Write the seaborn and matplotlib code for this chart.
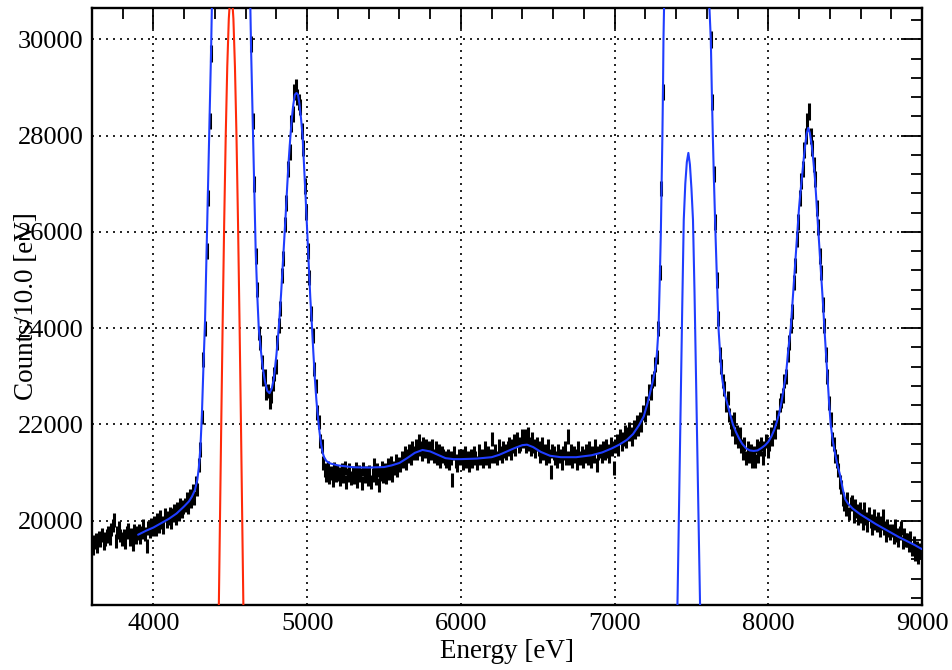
import numpy as np
import pandas as pd
import matplotlib
matplotlib.use("Agg")
import matplotlib.pyplot as plt
import seaborn as sns
from matplotlib.ticker import MultipleLocator

# ---------------- data ----------------
bin_start = 3600
bin_width = 10
# measured counts per 10 eV bin, 3600 .. 9000 eV (10 bins per line = 100 eV)
counts = [
    19420, 19560, 19610, 19480, 19650, 19590, 19700, 19530, 19620, 19680,
    19750, 19640, 19820, 19900, 20010, 19580, 19760, 19850, 19690, 19620,
    19680, 19560, 19760, 19820, 19610, 19700, 19520, 19790, 19650, 19740,
    19800, 19650, 19760, 19900, 19720, 19480, 19850, 19780, 19920, 19830,
    19950, 19820, 20010, 19890, 20080, 19960, 19870, 20120, 19990, 20060,
    20150, 19980, 20120, 20210, 20060, 20250, 20140, 20320, 20190, 20280,
    20330, 20450, 20280, 20520, 20400, 20620, 20480, 20780, 20650, 21150,
    21480, 22150, 23350, 24000, 25600, 26700, 28300, 29700, 31700, 35200,
    40000, 44500, 49800, 53500, 57600, 60800, 63200, 64800, 66700, 67000,
    67300, 66800, 65800, 64000, 61500, 58500, 55000, 51500, 49000, 44000,
    39800, 35100, 31500, 29900, 28300, 27000, 25500, 24800, 23900, 23700,
    23300, 22950, 23000, 22650, 22700, 22480, 22600, 22850, 23050, 23200,
    23700, 24050, 24400, 25100, 25450, 26150, 26600, 27300, 27650, 28250,
    28450, 28900, 29000, 28800, 28700, 28600, 28100, 27750, 26950, 26400,
    25600, 25050, 24300, 23850, 23150, 22800, 22250, 22050, 21650, 21550,
    21200, 21050, 20950, 21100, 20900, 21000, 20850, 21080, 20950, 21020,
    20980, 20870, 21060, 20920, 21100, 20800, 20950, 21050, 20880, 21000,
    20900, 21070, 20820, 21010, 20950, 20780, 21080, 20930, 21000, 20860,
    21020, 20800, 20950, 21150, 20880, 21050, 20750, 20980, 21100, 20920,
    21050, 20900, 21150, 21000, 21200, 20950, 21100, 21250, 21050, 21180,
    21150, 21300, 21250, 21400, 21200, 21350, 21450, 21300, 21500, 21400,
    21550, 21400, 21650, 21500, 21380, 21600, 21450, 21550, 21350, 21500,
    21400, 21550, 21350, 21500, 21300, 21450, 21250, 21400, 21350, 21300,
    21250, 21350, 21200, 21300, 20850, 21400, 21250, 21150, 21350, 21300,
    21350, 21200, 21400, 21250, 21300, 21150, 21350, 21250, 21400, 21300,
    21200, 21450, 21300, 21350, 21250, 21500, 21300, 21400, 21250, 21350,
    21700, 21350, 21450, 21300, 21550, 21400, 21350, 21500, 21450, 21400,
    21500, 21600, 21400, 21550, 21650, 21500, 21700, 21550, 21600, 21750,
    21650, 21750, 21550, 21800, 21600, 21500, 21700, 21550, 21450, 21600,
    21500, 21350, 21600, 21400, 21450, 21300, 21550, 21350, 21020, 21450,
    21400, 21300, 21250, 21450, 21350, 21200, 21400, 21500, 21300, 21750,
    21300, 21450, 21250, 21400, 21350, 21200, 21500, 21300, 21400, 21250,
    21350, 21450, 21300, 21500, 21250, 21400, 21350, 21550, 21150, 21400,
    21450, 21350, 21500, 21400, 21550, 21450, 21350, 21600, 21500, 21100,
    21550, 21650, 21500, 21750, 21600, 21700, 21850, 21650, 21800, 21900,
    21800, 21700, 21950, 21850, 22050, 21900, 22100, 22000, 22250, 22200,
    22450, 22350, 22700, 22650, 22900, 22950, 23250, 23400, 24000, 25150,
    26900, 28900, 31300, 34700, 36500, 39800, 43000, 46600, 50000, 53200,
    55800, 57000, 58700, 60100, 61300, 63000, 64200, 64400, 62800, 61500,
    60100, 58500, 57200, 55600, 53300, 50000, 46500, 43000, 39800, 36200,
    33800, 31300, 30000, 28700, 27200, 26200, 25000, 24200, 23450, 23200,
    22900, 22750, 22400, 22550, 22200, 22050, 21900, 22100, 21750, 21850,
    21650, 21800, 21550, 21400, 21600, 21300, 21500, 21350, 21450, 21250,
    21400, 21250, 21550, 21350, 21500, 21600, 21300, 21500, 21650, 21450,
    21600, 21800, 21700, 21950, 21850, 22150, 22050, 22400, 22500, 22600,
    22900, 23000, 23450, 23700, 24050, 24350, 24950, 25300, 25850, 26200,
    26700, 27050, 27300, 27700, 28000, 28300, 28500, 28000, 27750, 27400,
    27100, 26500, 26100, 25500, 25150, 24500, 24050, 23450, 23000, 22450,
    22100, 21700, 21600, 21350, 21250, 21050, 20800, 20700, 20450, 20350,
    20250, 20450, 20150, 20350, 20400, 20100, 20300, 20200, 20050, 20250,
    20100, 19950, 20250, 20050, 19900, 20150, 20000, 19850, 20100, 19950,
    19900, 20050, 19800, 19950, 20100, 19850, 19700, 19900, 19800, 19750,
    19800, 19650, 19900, 19700, 19600, 19750, 19850, 19550, 19700, 19600,
    19600, 19500, 19650, 19400, 19550, 19300, 19450, 19250, 19400, 19350,
]

# total fit curve (blue)
fit_energy = [
    3900, 3950, 4000, 4050, 4100, 4150, 4200, 4230, 4250, 4270, 4285, 4295,
    4305, 4315, 4325, 4335, 4345, 4355, 4365, 4375, 4385, 4395, 4405, 4430,
    4455, 4480, 4505, 4530, 4555, 4580, 4605, 4615, 4625, 4635, 4645, 4655,
    4665, 4675, 4685, 4695, 4710, 4725, 4740, 4755, 4770, 4783, 4800, 4815,
    4830, 4840, 4850, 4860, 4870, 4880, 4890, 4900, 4910, 4920, 4930, 4940,
    4950, 4960, 4970, 4980, 4990, 5000, 5010, 5020, 5030, 5040, 5050, 5060,
    5070, 5080, 5090, 5100, 5110, 5125, 5150, 5200, 5300, 5400, 5500, 5550,
    5600, 5650, 5700, 5750, 5800, 5850, 5900, 5950, 6000, 6100, 6200, 6250,
    6300, 6350, 6400, 6430, 6470, 6520, 6580, 6650, 6750, 6850, 6920, 6980,
    7030, 7080, 7120, 7160, 7190, 7215, 7230, 7245, 7264, 7275, 7286, 7294,
    7301, 7306, 7311, 7315, 7318, 7322, 7330, 7350, 7400, 7470, 7540, 7590,
    7610, 7617, 7626, 7632, 7639, 7647, 7656, 7666, 7676, 7690, 7700, 7715,
    7730, 7750, 7770, 7790, 7810, 7830, 7855, 7880, 7905, 7930, 7955, 7980,
    8000, 8020, 8040, 8055, 8070, 8085, 8100, 8116, 8130, 8146, 8160, 8168,
    8180, 8189, 8200, 8210, 8218, 8230, 8240, 8250, 8260, 8270, 8283, 8294,
    8304, 8315, 8326, 8337, 8348, 8357, 8365, 8375, 8385, 8395, 8406, 8420,
    8434, 8450, 8467, 8485, 8500, 8520, 8550, 8600, 8650, 8700, 8750, 8800,
    8850, 8900, 8950, 9000,
]
fit_counts = [
    19710, 19790, 19860, 19950, 20040, 20150, 20300, 20400, 20500, 20640, 20850, 21100,
    21500, 22200, 23200, 24100, 25500, 26800, 28200, 29800, 31600, 35000, 39500, 52000,
    61000, 66000, 67500, 66000, 61000, 52000, 39500, 35000, 31600, 29800, 28400, 26900,
    25600, 24700, 24000, 23650, 23200, 22900, 22700, 22650, 22750, 22950, 23450, 24000,
    24700, 25250, 25800, 26350, 26950, 27500, 27950, 28350, 28650, 28850, 28885, 28850,
    28650, 28350, 28000, 27350, 26700, 26000, 25300, 24650, 24100, 23500, 22950, 22500,
    22150, 21850, 21600, 21420, 21320, 21240, 21190, 21150, 21110, 21105, 21115, 21150,
    21200, 21300, 21410, 21470, 21440, 21370, 21300, 21280, 21280, 21290, 21320, 21370,
    21440, 21510, 21570, 21580, 21530, 21430, 21350, 21320, 21320, 21360, 21420, 21500,
    21580, 21680, 21800, 21990, 22170, 22450, 22650, 22850, 23145, 23450, 24000, 25000,
    26000, 27000, 28000, 29000, 30000, 30650, 32500, 38000, 55000, 65000, 55000, 38000,
    32500, 30650, 30000, 29000, 28000, 27000, 26000, 25000, 24000, 23300, 22950, 22650,
    22470, 22230, 22000, 21840, 21710, 21600, 21505, 21460, 21450, 21460, 21510, 21570,
    21640, 21750, 21900, 22050, 22220, 22450, 22750, 23062, 23550, 24000, 24650, 24995,
    25600, 26000, 26500, 26850, 27095, 27500, 27800, 28050, 28160, 28060, 27786, 27450,
    27095, 26550, 26000, 25450, 24930, 24450, 24000, 23500, 22990, 22480, 22000, 21650,
    21403, 21150, 20950, 20650, 20450, 20350, 20250, 20130, 20030, 19930, 19840, 19750,
    19660, 19580, 19500, 19410,
]

# narrow component of the first line (red)
red_energy = [4400, 4410, 4420, 4430, 4440, 4450, 4460, 4470, 4480, 4490, 4500,
              4510, 4520, 4530, 4540, 4550, 4560, 4570, 4580, 4590, 4600, 4610]
red_counts = [12366, 14613, 16979, 19399, 21803, 24093, 26186, 27993, 29429, 30424, 30935,
              30935, 30424, 29429, 27993, 26186, 24093, 21803, 19399, 16979, 14613, 12366]

# narrow component of the second line (blue)
comp_energy = [7400, 7410, 7420, 7430, 7440, 7450, 7460, 7470, 7480,
               7490, 7500, 7510, 7520, 7530, 7540, 7550, 7560]
comp_counts = [16660, 18450, 20440, 22430, 24420, 26250, 27000, 27450, 27640,
               27400, 26900, 26250, 24740, 22940, 21140, 19340, 17540]

x_ticks = [4000, 5000, 6000, 7000, 8000, 9000]
y_ticks = [20000, 22000, 24000, 26000, 28000, 30000]

# ---------------- figure ----------------
sns.set_theme(style="white")
plt.rcParams["font.family"] = ["Liberation Serif", "DejaVu Serif"]
plt.rcParams["mathtext.fontset"] = "stix"

W, H = 952, 670
fig = plt.figure(figsize=(W / 100, H / 100), dpi=100)
ax = fig.add_axes([92 / W, 1 - 605 / H, 830 / W, 597 / H])

energy = bin_start + bin_width / 2 + bin_width * np.arange(len(counts))
cnt = np.asarray(counts, dtype=float)
err = np.sqrt(cnt)

ax.vlines(energy, cnt - err, cnt + err, color="black", lw=2.2, zorder=2)

fit_df = pd.DataFrame({"energy": fit_energy, "counts": fit_counts})
red_df = pd.DataFrame({"energy": red_energy, "counts": red_counts})
comp_df = pd.DataFrame({"energy": comp_energy, "counts": comp_counts})

sns.lineplot(data=fit_df, x="energy", y="counts", ax=ax, color="#1f3dff",
             lw=1.5, estimator=None, sort=False, zorder=3)
sns.lineplot(data=comp_df, x="energy", y="counts", ax=ax, color="#1f3dff",
             lw=1.5, estimator=None, sort=False, zorder=3)
sns.lineplot(data=red_df, x="energy", y="counts", ax=ax, color="#ff2a0a",
             lw=1.5, estimator=None, sort=False, zorder=3)

ax.set_xlim(3600, 9000)
ax.set_ylim(18250, 30650)
ax.set_xticks(x_ticks)
ax.set_yticks(y_ticks)
ax.xaxis.set_minor_locator(MultipleLocator(200))
ax.yaxis.set_minor_locator(MultipleLocator(400))
ax.set_xlabel("")
ax.set_ylabel("")

ax.grid(True, which="major", color="black", lw=1.2, linestyle=(0, (1.2, 3.0)))
ax.set_axisbelow(True)

ax.tick_params(which="both", direction="in", top=True, right=True,
               colors="black", labelsize=19)
ax.tick_params(which="major", length=15, width=1.3, pad=6)
ax.tick_params(which="minor", length=8, width=1.3)
for lab in ax.get_xticklabels() + ax.get_yticklabels():
    lab.set_color("black")
for sp in ax.spines.values():
    sp.set_color("black")
    sp.set_linewidth(1.7)

fig.text(507 / W, 1 - 658 / H, "Energy [eV]", ha="center", va="baseline",
         fontsize=19.5, color="black")
fig.text(27 / W, 1 - 306 / H, "Counts/10.0 [eV]", ha="center", va="center",
         rotation=90, fontsize=19.5, color="black")

fig.savefig("out.png", dpi=100)
